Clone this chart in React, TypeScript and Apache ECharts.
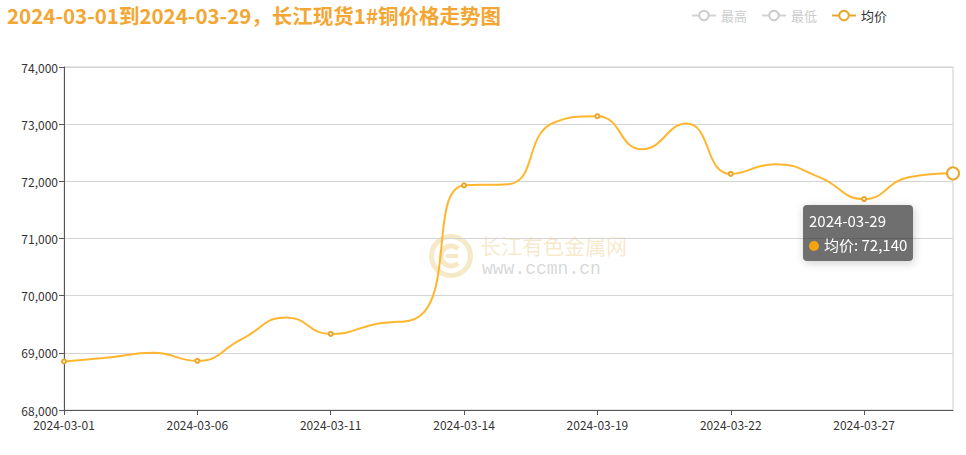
import { useEffect, useRef } from 'react';
import * as echarts from 'echarts';

const dates = [
    '2024-03-01', '2024-03-04', '2024-03-05', '2024-03-06', '2024-03-07', '2024-03-08',
    '2024-03-11', '2024-03-12', '2024-03-13', '2024-03-14', '2024-03-15',
    '2024-03-18', '2024-03-19', '2024-03-20', '2024-03-21', '2024-03-22',
    '2024-03-25', '2024-03-26', '2024-03-27', '2024-03-28', '2024-03-29'
];
const avgPrice = [
    68850, 68920, 69000, 68860, 69240, 69620,
    69330, 69500, 69640, 71930, 71950,
    73020, 73140, 72560, 73010, 72130,
    72300, 72070, 71690, 72070, 72140
];
// 最高 / 最低 are switched off in the legend, nothing of them is drawn
const highPrice: number[] = [];
const lowPrice: number[] = [];
const yTicks = { min: 68000, max: 74000, interval: 1000 };

const lineColor = '#eaa62a';
const font = 'Microsoft YaHei, "Noto Sans CJK SC", sans-serif';

const App = () => {
    const chartRef = useRef<HTMLDivElement | null>(null);

    useEffect(() => {
        if (!chartRef.current) return;
        const myChart = echarts.init(chartRef.current, null, { renderer: 'svg' });
        const lastIndex = avgPrice.length - 1;
        const option: any = {
            animation: false,
            textStyle: { fontFamily: font },
            title: {
                text: '2024-03-01到2024-03-29，长江现货1#铜价格走势图',
                left: 2,
                top: 0,
                textStyle: { color: '#f3a632', fontSize: 20.5, fontWeight: 'bold', fontFamily: font }
            },
            legend: {
                right: 74,
                top: 4,
                itemWidth: 24,
                itemHeight: 12,
                itemGap: 14,
                inactiveColor: '#ccc',
                textStyle: { color: '#333', fontSize: 13 },
                data: ['最高', '最低', '均价'],
                selected: { '最高': false, '最低': false, '均价': true }
            },
            tooltip: {
                trigger: 'axis',
                axisPointer: { type: 'none' },
                alwaysShowContent: true,
                backgroundColor: 'rgba(50,50,50,0.7)',
                borderWidth: 0,
                borderRadius: 4,
                padding: [4, 6],
                position: () => [803, 205],
                textStyle: { color: '#fff', fontSize: 15, fontFamily: font },
                formatter: (params: any) => {
                    const p = params[0];
                    return `<div style="line-height:24px">${p.name}<br/><span style="display:inline-block;width:10px;height:10px;border-radius:50%;background:#f5a30f;margin-right:5px"></span>${p.seriesName}: ${Number(p.value).toLocaleString('en-US')}</div>`;
                }
            },
            grid: { left: 64, right: 13, top: 67, bottom: 45, show: true, borderColor: '#ccc', borderWidth: 1 },
            xAxis: {
                type: 'category',
                boundaryGap: false,
                data: dates,
                axisLine: { lineStyle: { color: '#555' } },
                axisTick: { show: true, interval: 2, lineStyle: { color: '#555' } },
                axisLabel: { interval: 2, color: '#333', fontSize: 12, margin: 8 }
            },
            yAxis: {
                type: 'value',
                min: yTicks.min,
                max: yTicks.max,
                interval: yTicks.interval,
                axisLine: { show: true, lineStyle: { color: '#555' } },
                axisTick: { show: true, lineStyle: { color: '#555' } },
                axisLabel: { color: '#333', fontSize: 12, margin: 6 },
                splitLine: { lineStyle: { color: '#d4d4d4' } }
            },
            graphic: [
                {
                    type: 'group',
                    left: 429,
                    top: 234,
                    silent: true,
                    z: 0,
                    children: [
                        { type: 'ring', shape: { cx: 23, cy: 22, r: 22, r0: 17 }, style: { fill: 'rgba(236,206,130,0.45)' } },
                        { type: 'arc', shape: { cx: 23, cy: 22, r: 10, startAngle: Math.PI * 0.25, endAngle: Math.PI * 1.75, clockwise: true }, style: { stroke: 'rgba(236,206,130,0.45)', lineWidth: 5, fill: 'none' } },
                        { type: 'rect', shape: { x: 18, y: 20, width: 12, height: 4 }, style: { fill: 'rgba(236,206,130,0.45)' } },
                        { type: 'text', x: 52, y: 0, style: { text: '长江有色金属网', fontSize: 21, fill: 'rgba(236,206,140,0.45)', fontFamily: font } },
                        { type: 'text', x: 54, y: 26, style: { text: 'www.ccmn.cn', fontSize: 18, fill: 'rgba(190,190,190,0.6)', fontFamily: '"Liberation Mono", monospace' } }
                    ]
                }
            ],
            series: [
                { name: '最高', type: 'line', smooth: true, data: highPrice, itemStyle: { color: '#c23531' } },
                { name: '最低', type: 'line', smooth: true, data: lowPrice, itemStyle: { color: '#2f4554' } },
                {
                    name: '均价',
                    type: 'line',
                    smooth: true,
                    data: avgPrice,
                    symbol: 'emptyCircle',
                    // symbols only on the labelled dates (and the hovered last one)
                    symbolSize: (_v: any, params: any) => (params.dataIndex % 3 === 0 || params.dataIndex === lastIndex ? 4 : 0),
                    itemStyle: { color: lineColor, borderWidth: 1 },
                    lineStyle: { color: lineColor, width: 2 },
                    emphasis: { scale: 3 }
                }
            ]
        };
        myChart.setOption(option);
        myChart.dispatchAction({ type: 'showTip', seriesIndex: 2, dataIndex: lastIndex });
        return () => {
            myChart.dispose();
        };
    }, []);

    return <div ref={chartRef} style={{ position: 'absolute', left: 0, top: 0, width: 966, height: 455 }} />;
};

export default App;
